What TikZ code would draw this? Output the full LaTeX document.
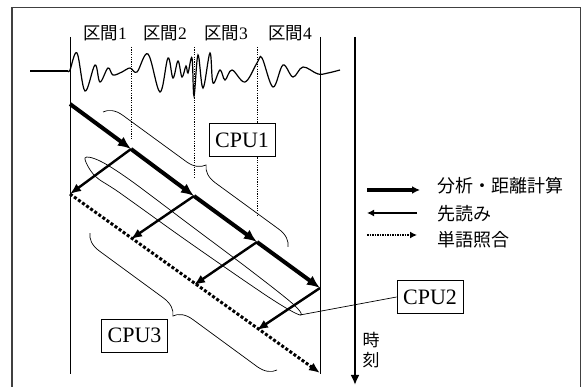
\documentclass[tikz,border=0pt]{standalone}
\usepackage{fontspec}
\setmainfont{Liberation Serif}
\newfontfamily\jpfont{Noto Sans CJK JP}
\usetikzlibrary{arrows.meta,decorations.pathreplacing}
\tikzset{
  bound/.style={line width=0.8pt},
  cut/.style={line width=0.8pt,dash pattern=on 1.2pt off 1.2pt},
  analyse/.style={line width=4pt,-{Latex[length=13pt,width=11pt]}},
  lookahead/.style={line width=2.4pt,-{Latex[length=11pt,width=9pt]}},
  wordmatch/.style={line width=3pt,dash pattern=on 3pt off 2pt,-{Latex[length=11pt,width=9pt]}},
  cpubox/.style={draw,line width=0.8pt,minimum width=66pt,minimum height=33pt,inner sep=0pt,
    font=\fontsize{22}{22}\selectfont},
  grp/.style={line width=0.7pt},
  brc/.style={decorate,decoration={brace,amplitude=18pt},line width=0.7pt},
  seclabel/.style={font=\fontsize{17.5}{17.5}\selectfont},
  legtext/.style={anchor=west,inner sep=0pt,font=\jpfont\fontsize{18}{18}\selectfont}
}
\begin{document}
\begin{tikzpicture}[x=1pt,y=-1pt]
\useasboundingbox (0,0) rectangle (582,387);
%frame
\draw[line width=1.2pt,black!75](12,392)|-(580.5,7.5)--(580.5,392);
%borders of the sections
\coordinate (l0) at (70,37);
\coordinate (l1) at (70,374);
\coordinate (r0) at (320,37);
\coordinate (r1) at (320,374);
\draw[bound](l0)--(l1);
\draw[bound](r0)--(r1);
\foreach \x/\y in {131/140,194/177,257/217}{
\draw[cut](\x,47)--(\x,\y);
}
\node[seclabel] (sec1) at (105,33) {{\jpfont 区間}1};
\node[seclabel] (sec2) at (165,33) {{\jpfont 区間}2};
\node[seclabel] (sec3) at (226,33) {{\jpfont 区間}3};
\node[seclabel] (sec4) at (290,33) {{\jpfont 区間}4};
%speech wave
\draw[line width=1.2pt](30,71)--(68,71);
\draw[line width=1.2pt] plot[smooth,tension=0.6] coordinates {(68,71) (70,70) (77,53) (85,91)
(95,65) (100,82) (108,68) (113,75) (122,72) (130,68) (137,72) (148,54) (160,92) (168,58)
(173,78) (178,61) (182,77) (186,66) (188,73) (192,58) (194,96) (198,55) (203,88) (210,53)
(213,83) (220,70) (225,80) (232,70) (245,82) (257,63) (262,58) (273,87) (283,65) (293,77)
(303,67) (318,74) (328,73) (340,70)};
%time axis
\coordinate (t0) at (355,37);
\coordinate (t1) at (355,385);
\draw[line width=2.4pt,-{Latex[length=10pt,width=9pt]}](t0)--(t1);
\node[font=\jpfont\fontsize{17}{20}\selectfont,align=center] (tlabel) at (371,350) {時\\刻};
%processing steps
\foreach \k/\x/\ya/\yb in {0/70/104/194,1/131/149/239,2/194/196/285,3/257/242/330,4/320/288/373}{
\coordinate (a\k) at (\x,\ya);
\coordinate (b\k) at (\x,\yb);
}
\draw[wordmatch](b0)--(b4);
\foreach \i [count=\j from 1] in {0,1,2,3}{
\draw[analyse](a\i)--(a\j);
\draw[lookahead](a\j)--(b\i);
}
%cpu groups
\coordinate (c1s) at (103,112);
\coordinate (c1e) at (288,247);
\coordinate (c3s) at (277,370);
\coordinate (c3e) at (90,233);
\draw[brc](c1s)--(c1e);
\draw[brc](c3s)--(c3e);
\draw[grp] plot[smooth cycle,tension=0.55] coordinates {(85,158) (100,161) (130,180) (190,225)
(250,270) (293,304) (300,315) (270,298) (190,243) (120,193) (95,176)};
\coordinate (ovtip) at (300,315);
\node[cpubox,fill=white] (cpu1) at (242,140) {CPU1};
\node[cpubox] (cpu2) at (430,297) {CPU2};
\node[cpubox] (cpu3) at (134.5,335.5) {CPU3};
\draw[grp](cpu2.west)--(ovtip);
%legend
\coordinate (k1a) at (367,190);
\coordinate (k1b) at (420,190);
\coordinate (k2a) at (417,213);
\coordinate (k2b) at (367,213);
\coordinate (k3a) at (367,235);
\coordinate (k3b) at (417,235);
\draw[analyse,line width=3.5pt,-{Latex[length=8pt,width=8pt]}](k1a)--(k1b);
\draw[lookahead,line width=1.8pt,-{Latex[length=7pt,width=7pt]}](k2a)--(k2b);
\draw[wordmatch,line width=2pt,dash pattern=on 1.5pt off 1pt,-{Latex[length=7pt,width=7pt]}](k3a)--(k3b);
\node[legtext] (leg1) at (437,186) {分析・距離計算};
\node[legtext] (leg2) at (437,214) {先読み};
\node[legtext] (leg3) at (437,240) {単語照合};
\end{tikzpicture}
\end{document}
